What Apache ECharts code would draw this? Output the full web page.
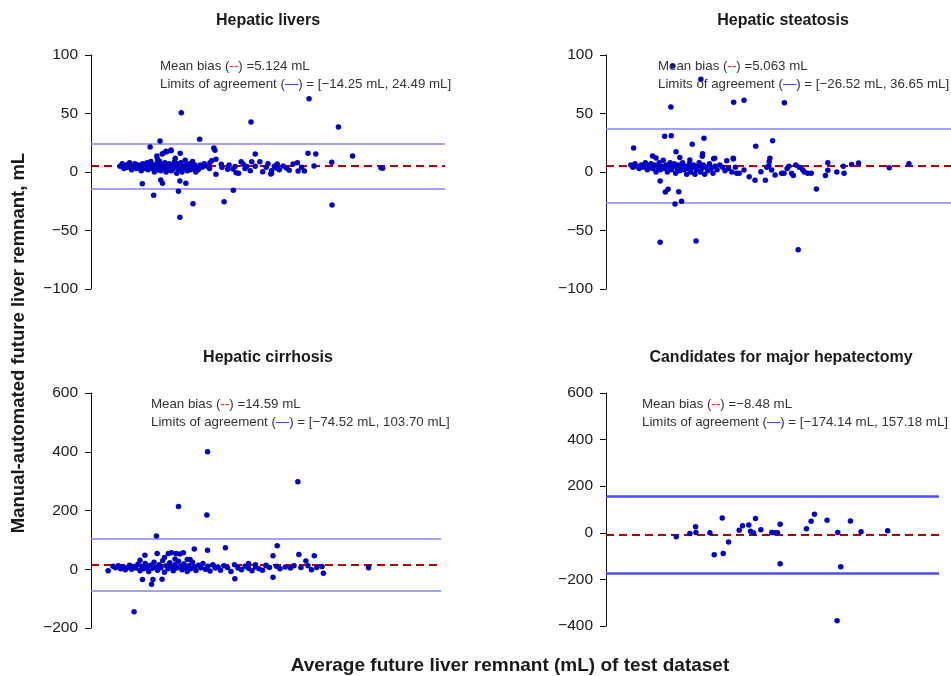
<!DOCTYPE html>
<html>
<head>
<meta charset="utf-8">
<script src="https://cdn.jsdelivr.net/npm/echarts@6/dist/echarts.min.js"></script>
<style>
  html, body { margin: 0; padding: 0; background: #fff; }
  #chart { width: 951px; height: 676px; }
</style>
</head>
<body>
<div id="chart"></div>
<script>
// panel titles
var panelTitles = ['Hepatic livers', 'Hepatic steatosis', 'Hepatic cirrhosis', 'Candidates for major hepatectomy'];

// mean bias and limits of agreement per panel
var meanBias = [5.124, 5.063, 14.59, -8.48];
var loaLower = [-14.25, -26.52, -74.52, -174.14];
var loaUpper = [24.49, 36.65, 103.70, 157.18];
var biasText = ['5.124 mL', '5.063 mL', '14.59 mL', '\u22128.48 mL'];
var loaText = ['[\u221214.25 mL, 24.49 mL]', '[\u221226.52 mL, 36.65 mL]', '[\u221274.52 mL, 103.70 mL]', '[\u2212174.14 mL, 157.18 mL]'];

// y axis ranges
var yMin = [-100, -100, -200, -400];
var yMax = [100, 100, 600, 600];
var yStep = [50, 50, 200, 200];

// points: [average (relative position, no scale shown), difference in mL]
var liversPts = [
  [25.5,50.7],[61.6,62.6],[45.2,42.7],[69.9,38.5],[73.9,13.7],[19.5,26.5],[30.7,27.9],[16.7,21.4],[22.6,18.8],[21.2,17.7],
  [20.1,15.4],[18.6,13.7],[34.7,20.5],[35.0,18.5],[25.2,16.0],[46.4,15.4],[61.3,16.0],[63.5,15.4],[68.0,8.3],[63.0,5.1],
  [81.9,3.7],[82.4,3.3],[14.5,-10],[19.7,-6.8],[20.2,-9.7],[17.7,-19.9],[24.7,-16.5],[25.1,-7.7],[26.8,-9.7],[25.1,-38.7],
  [28.8,-27.1],[35.3,-2],[37.6,-25.4],[40.2,-15.7],[68.1,-28.2],[48.5,0.3],[50.8,-1.7],[41.7,-1.1],[38.6,2.3],[36.8,6.6],
  [33.6,8],[34.1,9.7],[35.3,10.8],[42.4,8.8],[43.0,6.8],[44.0,4.6],[45.4,8.8],[47.7,8.8],[46.4,5],[51.0,1],
  [52.3,3.5],[40.1,2.6],[40.7,4.6],[41.0,-0.6],[18.8,10.9],[23.8,11.7],[20.4,16],[21.4,17.4],[22.6,18.2],
  [51.0,-1.1],[52.6,6.8],[54.3,5.1],[57.1,6.8],[58.3,8],[58.5,0.9],[60.3,0.9],[53.2,2],[55.2,3.5],[56,1.5],[59.5,4],
  [8.2,5],[8.8,7],[9.3,3],[9.9,6],[10.4,4],[10.9,8],[11.5,2],[12,5],[12.4,7],[12.9,3],
  [13.3,6],[13.8,4],[14.2,1],[14.6,7],[15.0,5],[15.4,3],[15.8,8],[16.1,2],[16.5,5],[16.9,9],
  [17.2,3],[17.6,6],[17.9,0],[18.2,4],[18.5,7],[18.8,2],[19.1,5],[19.4,9],[19.7,1],[20.0,4],
  [20.3,6],[20.6,3],[20.9,8],[21.2,0],[21.5,5],[21.8,2],[22.1,7],[22.4,4],[22.7,1],[23.0,6],
  [23.3,3],[23.6,9],[23.9,5],[24.2,-1],[24.5,7],[24.8,2],[25.1,4],[25.4,8],[25.7,0],[26.0,5],
  [26.3,3],[26.6,10],[26.9,6],[27.2,1],[27.5,4],[27.8,7],[28.1,2],[28.4,5],[28.7,9],[29.0,3],
  [29.3,6],[29.6,0],[29.9,4],[30.3,2],[30.8,6],[31.4,4],[32.0,7],[32.8,5],[33.5,3],[37.0,4],
  [39.0,6],[43.5,3],[45.0,1],[49.5,4],[50.0,7],[51.8,5]
];
var steatosisPts = [
  [19.3,90.6],[27.5,79.2],[18.8,55.6],[37,59.6],[40,61.3],[51.7,59.2],[17,30.5],[18.9,31],[28.4,28.8],[25,23.7],
  [43.4,22],[48.3,26.8],[8,20.5],[20.3,17.4],[28,15.7],[27.9,13.5],[21.4,12.5],[31.2,11.4],[36.9,11.7],[35,9.7],
  [13.5,13.7],[47.5,11.7],[47.3,8.8],[61,-14.5],[15.7,-7.7],[18,-14.8],[17.2,-17.1],[21.1,-16.8],[21.9,-25],[20,-27.4],
  [15.7,-60.1],[26.1,-59],[55.7,-66.4],[41.5,-4],[43.2,-7],[46.2,-7],[37.9,-1.1],[38.6,-1.1],[40,1.7],[49,-2.6],
  [50.9,-1.1],[51.6,-1.1],[44.9,0.3],[46.6,4],[47.2,5.1],[48,1.7],[53.8,-1],[54.3,-3],[52.5,3],[53,5],
  [55,6],[56,4],[57,2],[57.5,0],[58.5,-1],[59.5,-1],[63.6,-3],[64.3,1.5],[64.3,7.9],[66.9,0],
  [69,-1],[68.8,5],[71.2,6.5],[73.2,7.7],[82.1,3.7],[87.8,7.1],[24.3,10.3],[31.5,11.7],[36.9,11.1],[14.5,12],
  [7.2,6],[7.8,4],[8.4,7],[9.0,5],[9.6,3],[10.2,6],[10.8,4],[11.4,8],[12.0,2],[12.5,5],
  [13.0,7],[13.5,3],[14.0,6],[14.5,0],[15.0,4],[15.4,8],[15.8,2],[16.2,5],[16.6,10],[17.0,3],
  [17.4,6],[17.8,0],[18.2,4],[18.6,8],[19.0,2],[19.4,5],[19.8,7],[20.2,-1],[20.6,3],[21.0,6],
  [21.4,1],[21.8,4],[22.2,8],[22.6,2],[23.0,5],[23.4,-2],[23.8,3],[24.2,7],[24.6,0],[25.0,4],
  [25.4,6],[25.8,-2],[26.2,2],[26.6,5],[27.0,8],[27.4,0],[27.8,3],[28.2,6],[28.6,-2],[29.0,4],
  [29.5,1],[30.0,7],[30.5,3],[31.0,-1],[31.6,5],[32.2,2],[33.0,6],[33.8,4],[34.5,1],[35.5,3],
  [36.5,0],[37.5,4]
];
var cirrhosisPts = [
  [33.3,400],[59.1,298],[25,214],[33.1,185],[18.7,113],[38.4,73.5],[53.2,80],[29.5,69],[33.3,65],[52,46],
  [59.4,50],[63.8,46],[61.4,28],[12.3,-145],[17.3,-51],[14.7,-35],[17.7,-35],[20.3,-34],[41.1,-32],[52,-27],
  [66.4,-14],[79.3,5],[4.9,-5],[15.4,48],[14,31],[18.9,54],[22.1,54],[23,56],[24.3,54],[25.4,52],
  [26.4,56],[21,40],[24,35],[27.5,33],[28.3,33],[45,20],[47,15],[50,12],
  [6.3,10],[7,5],[7.8,12],[8.5,2],[9.2,8],[9.8,-2],[10.4,6],[11,14],[11.6,0],[12.2,9],
  [12.8,4],[13.4,17],[14,-5],[14.5,10],[15,2],[15.5,20],[16,7],[16.5,-8],[17,14],[17.5,3],
  [18,24],[18.5,8],[19,-3],[19.5,15],[20,5],[20.5,30],[21,-10],[21.5,12],[22,2],[22.5,22],
  [23,8],[23.5,-5],[24,16],[24.5,4],[25,27],[25.5,10],[26,-2],[26.5,18],[27,6],[27.5,-8],
  [28,12],[28.5,2],[29,24],[29.5,8],[30,-4],[30.7,14],[31.4,5],[32,20],[32.7,0],[33.4,10],
  [34,-6],[34.8,15],[35.5,4],[36.3,8],[37,-3],[38,12],[39,6],[40,-8],[41,15],[42,4],
  [43,-2],[44,10],[45,3],[46,-5],[47,8],[48,2],[49,-3],[50,14],[51,6],[53,10],
  [54,2],[55.5,8],[57,4],[58,12],[60,6],[62,12],[63,-2],[64.5,6],[66,9]
];
var hepatectomyPts = [
  [21.1,-17],[25.2,-3],[26.9,26],[27,1],[31.2,0],[32.5,-94],[34.9,64],[35.2,-89],[36.8,-40],[40,11],
  [41,30],[42.9,33],[43.4,7],[44.3,-1],[44.9,61],[46.5,13],[49.8,1],[50.7,0],[51.5,0],[52.3,37],
  [52.3,-133],[60.2,17],[61.6,50],[62.6,80],[66.4,54],[69.6,1],[70.5,-146],[69.4,-377],[73.4,51],[76.6,4],
  [84.6,9]
];
var allPts = [liversPts, steatosisPts, cirrhosisPts, hepatectomyPts];

var grids = [
  { left: 91, top: 55, width: 354, height: 234 },
  { left: 606, top: 55, width: 345, height: 234 },
  { left: 91, top: 393, width: 350, height: 235 },
  { left: 606, top: 393, width: 333, height: 233 }
];
var titlePos = [[268, 13], [783, 13], [268, 350], [781, 350]];
var notePos = [[160, 57], [658, 57], [151, 395], [642, 395]];
var font = 'Liberation Sans, Arial, Helvetica, sans-serif';

var chart = echarts.init(document.getElementById('chart'));

function txt(color) {
  return { fill: color, fontFamily: font, fontSize: 13.3, lineHeight: 18.5 };
}

var titles = [], xAxes = [], yAxes = [], series = [], notes = [];
for (var i = 0; i < 4; i++) {
  titles.push({
    text: panelTitles[i], left: titlePos[i][0], top: titlePos[i][1], textAlign: 'center', padding: 0,
    textStyle: { fontFamily: font, fontSize: 16, fontWeight: 'bold', color: '#1a1a1a' }
  });
  notes.push({
    type: 'text', x: notePos[i][0], y: notePos[i][1], z: 10,
    style: {
      text: '{t|Mean bias (}{r|--}{t|) =' + biasText[i] + '}\n{t|Limits of agreement (}{b|\u2014}{t|) = ' + loaText[i] + '}',
      fontFamily: font, fontSize: 13.3, fill: '#333', lineHeight: 18.5,
      rich: { t: txt('#333333'), r: txt('#e01010'), b: txt('#1f2fd0') }
    }
  });
  xAxes.push({ gridIndex: i, type: 'value', min: 0, max: 100, show: false });
  yAxes.push({
    gridIndex: i, type: 'value', min: yMin[i], max: yMax[i], interval: yStep[i],
    axisLine: { show: true, lineStyle: { color: '#111', width: 1 } },
    axisTick: { show: true, length: 6, lineStyle: { color: '#111' } },
    axisLabel: {
      color: '#1a1a1a', fontFamily: font, fontSize: 15.5, margin: 13,
      formatter: function (v) { return String(v).replace('-', '\u2212'); }
    },
    splitLine: { show: false }
  });
  var heavy = i === 3;
  var loaStyle = { color: heavy ? '#4d4dff' : '#8585ff', width: heavy ? 2.5 : 1.5, type: 'solid' };
  // reference lines under the points
  series.push({
    type: 'line', xAxisIndex: i, yAxisIndex: i, data: [], z: 1,
    markLine: {
      silent: true, symbol: 'none', animation: false,
      label: { show: false },
      data: [
        { yAxis: loaUpper[i], lineStyle: loaStyle },
        { yAxis: loaLower[i], lineStyle: loaStyle },
        { yAxis: meanBias[i], lineStyle: { color: '#b00000', width: 2.2, type: [8, 5] } }
      ]
    }
  });
  series.push({
    type: 'scatter', xAxisIndex: i, yAxisIndex: i,
    data: allPts[i], symbolSize: 5.5,
    itemStyle: { color: '#0000c4', opacity: 1 },
    z: 5
  });
}

chart.setOption({
  backgroundColor: '#fff',
  animation: false,
  title: titles,
  grid: grids,
  xAxis: xAxes,
  yAxis: yAxes,
  series: series,
  graphic: notes.concat([
    {
      type: 'text', x: 19, y: 343, rotation: Math.PI / 2,
      style: {
        text: 'Manual-automated future liver remnant, mL', fontFamily: font, fontSize: 18.5,
        fontWeight: 'bold', fill: '#1a1a1a', align: 'center', verticalAlign: 'middle'
      }
    },
    {
      type: 'text', x: 510, y: 666,
      style: {
        text: 'Average future liver remnant (mL) of test dataset', fontFamily: font, fontSize: 19,
        fontWeight: 'bold', fill: '#1a1a1a', align: 'center', verticalAlign: 'middle'
      }
    }
  ])
});

window.addEventListener('resize', function () { chart.resize(); });
</script>
</body>
</html>
